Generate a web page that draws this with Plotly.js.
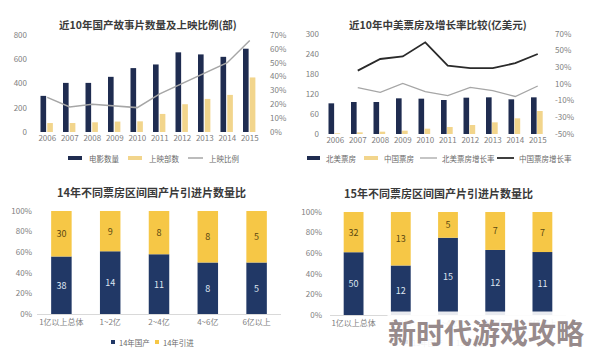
<!DOCTYPE html>
<html>
<head>
<meta charset="utf-8">
<script src="https://cdn.plot.ly/plotly-3.0.1.min.js"></script>
<style>html,body{margin:0;padding:0;background:#fff;}#chart{width:594px;height:357px;}</style>
</head>
<body>
<div id="chart"></div>
<script>
// ---- data: top-left ----
const years = ['2006','2007','2008','2009','2010','2011','2012','2013','2014','2015'];
const filmCount = [298, 405, 405, 455, 527, 557, 657, 640, 620, 687];
const releasedCount = [74, 74, 80, 86, 88, 149, 229, 273, 306, 450];
const releaseRatio = [25, 18, 20, 19, 17.6, 27.5, 35, 42, 50, 66];
// ---- data: top-right ----
const naBoxOffice = [92, 96, 96, 107, 106, 102, 109, 110, 104, 110];
const cnBoxOffice = [2, 5, 7, 10, 16, 21, 27, 35, 47, 69];
const naGrowth = [null, 5.6, 0, 10.8, 0.8, -4, 6, 2, -5, 7.6];
const cnGrowth = [null, 26, 40, 43, 60, 32, 29, 29, 35, 46];
const growthTicks = [-50, -30, -10, 10, 30, 50, 70];
// ---- data: bottom ----
const bands = ['1亿以上总体', '1~2亿', '2~4亿', '4~6亿', '6亿以上'];
const domestic14 = [38, 14, 11, 8, 5];
const imported14 = [30, 9, 8, 8, 5];
const domestic15 = [50, 12, 15, 12, 11];
const imported15 = [32, 13, 5, 7, 7];

const NAVY = '#1f2c50';
const NAVY2 = '#213866';
const YEL_LIGHT = '#f2d58c';
const YEL = '#f6c746';
const GRAY_LINE = '#a6a6a6';
const DARK_LINE = '#2a2a2a';
const FONT = 'Noto Sans CJK SC, Noto Sans, sans-serif';

function share(a, b) { return a.map((v, i) => v / (v + b[i]) * 100); }
const d14 = share(domestic14, imported14), i14 = d14.map(v => 100 - v);
const d15 = share(domestic15, imported15), i15 = d15.map(v => 100 - v);

const traces = [
  // top-left
  {type:'bar', x:years, y:filmCount, name:'电影数量', xaxis:'x', yaxis:'y', marker:{color:NAVY}, offset:-0.3, width:0.25},
  {type:'bar', x:years, y:releasedCount, name:'上映部数', xaxis:'x', yaxis:'y', marker:{color:YEL_LIGHT}, offset:0.0, width:0.25},
  {type:'scatter', mode:'lines', x:years, y:releaseRatio, name:'上映比例', xaxis:'x', yaxis:'y2', line:{color:GRAY_LINE, width:1.5}},
  // top-right
  {type:'bar', x:years, y:naBoxOffice, name:'北美票房', xaxis:'x2', yaxis:'y3', marker:{color:NAVY}, offset:-0.3, width:0.25},
  {type:'bar', x:years, y:cnBoxOffice, name:'中国票房', xaxis:'x2', yaxis:'y3', marker:{color:YEL_LIGHT}, offset:-0.03, width:0.25},
  {type:'scatter', mode:'lines', x:years, y:naGrowth, name:'北美票房增长率', xaxis:'x2', yaxis:'y4', line:{color:GRAY_LINE, width:1.3}},
  {type:'scatter', mode:'lines', x:years, y:cnGrowth, name:'中国票房增长率', xaxis:'x2', yaxis:'y4', line:{color:DARK_LINE, width:1.8}},
  // bottom-left
  {type:'bar', x:bands, y:d14, name:'14年国产', xaxis:'x3', yaxis:'y5', marker:{color:NAVY2}, width:0.42,
   text:domestic14.map(String), textposition:'inside', insidetextanchor:'middle', textfont:{color:'#dfe6f2', size:9, family:FONT}},
  {type:'bar', x:bands, y:i14, base:d14, name:'14年引进', xaxis:'x3', yaxis:'y5', marker:{color:YEL}, width:0.42,
   text:imported14.map(String), textposition:'inside', insidetextanchor:'middle', textfont:{color:'#5b4711', size:9, family:FONT}},
  // bottom-right
  {type:'bar', x:bands, y:d15, name:'15年国产', xaxis:'x4', yaxis:'y6', marker:{color:NAVY2}, width:0.42,
   text:domestic15.map(String), textposition:'inside', insidetextanchor:'middle', textfont:{color:'#dfe6f2', size:9, family:FONT}},
  {type:'bar', x:bands, y:i15, base:d15, name:'15年引进', xaxis:'x4', yaxis:'y6', marker:{color:YEL}, width:0.42,
   text:imported15.map(String), textposition:'inside', insidetextanchor:'middle', textfont:{color:'#5b4711', size:9, family:FONT}}
];
traces.forEach(t => { t.showlegend = false; t.hoverinfo = 'skip'; });

const W = 594, H = 357;
const px = v => v / W, py = v => 1 - v / H;
const tickFont = {size:8, color:'#808080', family:FONT};
const baseAx = {showgrid:false, zeroline:false, showline:false, ticks:'', tickfont:tickFont, fixedrange:true, automargin:false};
const legFont = {size:7.5, color:'#6a6a6a', family:FONT};

// hand-placed legend rows: [trace index, symbol kind, symbol x0, symbol x1, text x]
const legendRows = [
  {y:158, items:[[0,'bar',68,82,87],[1,'bar',128,142,147],[2,'line',188,203,207]]},
  {y:158, items:[[3,'bar',307,320,324],[4,'bar',364,378,382],[5,'line',420,437,440],[6,'line',497,514,517]]},
  {y:342, items:[[7,'sq',111,115,117],[8,'sq',155,159,161]]},
  {y:342, items:[[9,'sq',404,408,410],[10,'sq',448,452,454]]}
];
const shapes = [], annotations = [];
legendRows.forEach(row => {
  row.items.forEach(([ti, kind, x0, x1, tx]) => {
    const t = traces[ti];
    if (kind === 'line') {
      shapes.push({type:'line', xref:'paper', yref:'paper', x0:px(x0), x1:px(x1), y0:py(row.y), y1:py(row.y), line:{color:t.line.color, width:t.line.width}});
    } else {
      shapes.push({type:'rect', xref:'paper', yref:'paper', x0:px(x0), x1:px(x1), y0:py(row.y + 2), y1:py(row.y - 2), line:{width:0}, fillcolor:t.marker.color});
    }
    annotations.push({text:t.name, xref:'paper', yref:'paper', x:px(tx), y:py(row.y), xanchor:'left', yanchor:'middle', showarrow:false, font:legFont});
  });
});

const titles = [
  ['近10年国产故事片数量及上映比例(部)', 148, 25, 10.5],
  ['近10年中美票房及增长率比较(亿美元)', 438, 25, 10.5],
  ['14年不同票房区间国产片引进片数量比', 151, 192, 11],
  ['15年不同票房区间国产片引进片数量比', 438, 193, 11]
];
titles.forEach(([t, x, y, s]) => annotations.push({text:'<b>' + t + '</b>', xref:'paper', yref:'paper', x:px(x), y:py(y), xanchor:'center', yanchor:'middle', showarrow:false, font:{size:s, color:'#3a3a3a', family:FONT}}));
annotations.push({text:'<b>新时代游戏攻略</b>', xref:'paper', yref:'paper', x:px(486), y:py(332), xanchor:'center', yanchor:'middle', showarrow:false,
  font:{size:28, color:'#978a8b', family:FONT}, bgcolor:'rgba(255,255,255,0.9)', borderpad:0});

const layout = {
  width:W, height:H, margin:{l:0, r:0, t:0, b:0, autoexpand:false},
  paper_bgcolor:'#fff', plot_bgcolor:'rgba(0,0,0,0)',
  barmode:'overlay', showlegend:false,
  font:{family:FONT},
  xaxis: Object.assign({}, baseAx, {domain:[px(36), px(261)], anchor:'y', type:'category'}),
  yaxis: Object.assign({}, baseAx, {domain:[py(132), py(35)], anchor:'x', range:[0, 800], tickvals:[0,200,400,600,800], ticklabelstandoff:8}),
  yaxis2: Object.assign({}, baseAx, {overlaying:'y', side:'right', anchor:'x', range:[0, 70], dtick:10, ticksuffix:'%', ticklabelstandoff:8}),
  xaxis2: Object.assign({}, baseAx, {domain:[px(324), px(549)], anchor:'y3', type:'category'}),
  yaxis3: Object.assign({}, baseAx, {domain:[py(134), py(34)], anchor:'x2', range:[0, 300], dtick:60, ticklabelstandoff:4}),
  yaxis4: Object.assign({}, baseAx, {overlaying:'y3', side:'right', anchor:'x2', range:[-50, 70], tickmode:'array', tickvals:growthTicks, ticktext:growthTicks.map(v => v + '%'), ticklabelstandoff:5}),
  xaxis3: Object.assign({}, baseAx, {domain:[px(37), px(281)], anchor:'y5', type:'category', showline:true, linecolor:'#d9d9d9', linewidth:1}),
  yaxis5: Object.assign({}, baseAx, {domain:[py(314), py(211)], anchor:'x3', range:[0, 100], dtick:20, ticksuffix:'%', ticklabelstandoff:4}),
  xaxis4: Object.assign({}, baseAx, {domain:[px(330), px(566)], anchor:'y6', type:'category', showline:true, linecolor:'#d9d9d9', linewidth:1}),
  yaxis6: Object.assign({}, baseAx, {domain:[py(315), py(212)], anchor:'x4', range:[0, 100], dtick:20, ticksuffix:'%', ticklabelstandoff:7}),
  shapes: shapes,
  annotations: annotations
};

Plotly.newPlot('chart', traces, layout, {staticPlot:true, displayModeBar:false});
</script>
</body>
</html>
